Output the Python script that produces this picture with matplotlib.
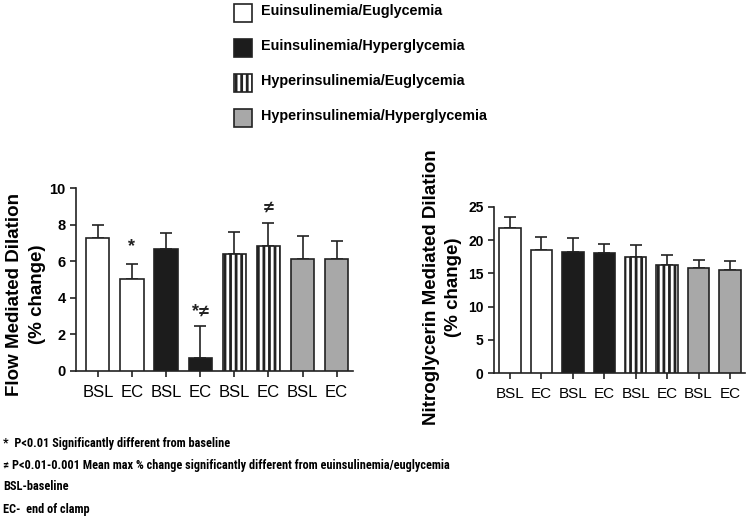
import matplotlib
matplotlib.use("Agg")
import matplotlib.pyplot as plt
from matplotlib.patches import Rectangle
from matplotlib import font_manager as fm
import numpy as np

# ---------------- data ----------------
tick_labels = ["BSL", "EC", "BSL", "EC", "BSL", "EC", "BSL", "EC"]
groups = ["Euinsulinemia/Euglycemia", "Euinsulinemia/Hyperglycemia",
          "Hyperinsulinemia/Euglycemia", "Hyperinsulinemia/Hyperglycemia"]

fmd_mean = [7.25, 5.03, 6.65, 0.68, 6.42, 6.85, 6.15, 6.15]
fmd_err = [0.74, 0.82, 0.88, 1.77, 1.18, 1.25, 1.25, 0.95]

ntg_mean = [21.85, 18.5, 18.25, 18.0, 17.4, 16.2, 15.75, 15.55]
ntg_err = [1.55, 2.0, 2.0, 1.4, 1.9, 1.6, 1.25, 1.3]

fmd_marks = {1: "*", 3: "*\u2260", 5: "\u2260"}
fmd_mark_y = {1: 6.8, 3: 3.2, 5: 8.9}

footnotes = ["*  P<0.01 Significantly different from baseline",
             "\u2260 P<0.01-0.001 Mean max % change significantly different from euinsulinemia/euglycemia",
             "BSL-baseline",
             "EC-  end of clamp"]

# ---------------- styles ----------------
names = {f.name for f in fm.fontManager.ttflist}
base = "Liberation Sans" if "Liberation Sans" in names else "DejaVu Sans"
narrow = base
for cand in ["Liberation Sans Narrow", "Arial Narrow", "Roboto Condensed",
             "Open Sans Condensed", "DejaVu Sans Condensed"]:
    if cand in names:
        narrow = cand
        break
plt.rcParams["font.family"] = [base, "DejaVu Sans"]
plt.rcParams["hatch.linewidth"] = 2.0

styles = [dict(facecolor="white", hatch=None),
          dict(facecolor="#1c1c1c", hatch=None),
          dict(facecolor="white", hatch="|||"),
          dict(facecolor="#a8a8a8", hatch=None)]
edge = "#222222"

fig = plt.figure(figsize=(7.46, 5.18), dpi=100)
W, H = 746, 518


def px_axes(l, b, r, t):
    return fig.add_axes([l / W, 1 - b / H, (r - l) / W, (b - t) / H])


ax1 = px_axes(76, 370.7, 353, 188.3)
ax2 = px_axes(494, 373.3, 745, 206.7)


def draw(ax, means, errs, ylim, yticks, width, xl, tick_fs, ytick_fs):
    x = np.arange(len(means))
    for i, (m, e) in enumerate(zip(means, errs)):
        st = styles[i // 2]
        ax.bar(x[i], m, width=width, facecolor=st["facecolor"], edgecolor=edge,
               linewidth=1.2, hatch=st["hatch"], zorder=3)
        ax.errorbar(x[i], m, yerr=[[0], [e]], fmt="none", ecolor=edge,
                    elinewidth=1.2, capsize=4.3, capthick=1.2, zorder=2)
    ax.set_xlim(*xl)
    ax.set_ylim(*ylim)
    ax.set_yticks(yticks)
    ax.set_xticks(x)
    ax.set_xticklabels(tick_labels, fontsize=tick_fs)
    for lab in ax.get_yticklabels():
        lab.set_fontweight("bold")
        lab.set_fontsize(ytick_fs)
    for s in ["top", "right"]:
        ax.spines[s].set_visible(False)
    for s in ["left", "bottom"]:
        ax.spines[s].set_linewidth(1.2)
        ax.spines[s].set_color(edge)
    ax.tick_params(axis="both", direction="out", length=4, width=1.2, color=edge)
    ax.tick_params(axis="x", pad=6)


draw(ax1, fmd_mean, fmd_err, (0, 10), [0, 2, 4, 6, 8, 10], 0.68, (-0.64, 7.48), 12, 10.5)
draw(ax2, ntg_mean, ntg_err, (0, 25), [0, 5, 10, 15, 20, 25], 0.68, (-0.51, 7.48), 11, 10)

for i, t in fmd_marks.items():
    ax1.text(i, fmd_mark_y[i], t, ha="center", va="center", fontsize=13,
             fontweight="bold", color=edge)

fig.text(15 / W, 1 - 294 / H, "Flow Mediated Dilation", rotation=90, ha="center",
         va="center", fontsize=13.5, fontweight="bold")
fig.text(38 / W, 1 - 294 / H, "(% change)", rotation=90, ha="center",
         va="center", fontsize=13.5, fontweight="bold")
fig.text(431 / W, 1 - 287 / H, "Nitroglycerin Mediated Dilation", rotation=90,
         ha="center", va="center", fontsize=13.5, fontweight="bold")
fig.text(454 / W, 1 - 287 / H, "(% change)", rotation=90, ha="center",
         va="center", fontsize=13.5, fontweight="bold")

# legend
leg_y = [13, 48, 83, 118]
for g, y, st in zip(groups, leg_y, styles):
    r = Rectangle(((234) / W, 1 - (y + 8.5) / H), 18 / W, 17 / H,
                  transform=fig.transFigure, facecolor=st["facecolor"],
                  edgecolor=edge, linewidth=1.2, hatch=st["hatch"])
    fig.add_artist(r)
    fig.text(261 / W, 1 - (y - 2) / H, g, ha="left", va="center",
             fontsize=10.4, fontweight="bold")

# footnotes: fit longest line to its width in the reference (~440 px)
foot_y = [443, 465, 487, 509]
foot_texts = []
for t, y in zip(footnotes, foot_y):
    foot_texts.append(fig.text(3 / W, 1 - y / H, t, ha="left", va="center",
                               fontsize=9.5, fontweight="bold",
                               family=[narrow, "DejaVu Sans"]))
renderer = fig.canvas.get_renderer()
wpx = foot_texts[1].get_window_extent(renderer).width
fs = min(9.5 * 445.0 / wpx, 10.0)
for t in foot_texts:
    t.set_fontsize(fs)

fig.savefig("out.png", dpi=100)
